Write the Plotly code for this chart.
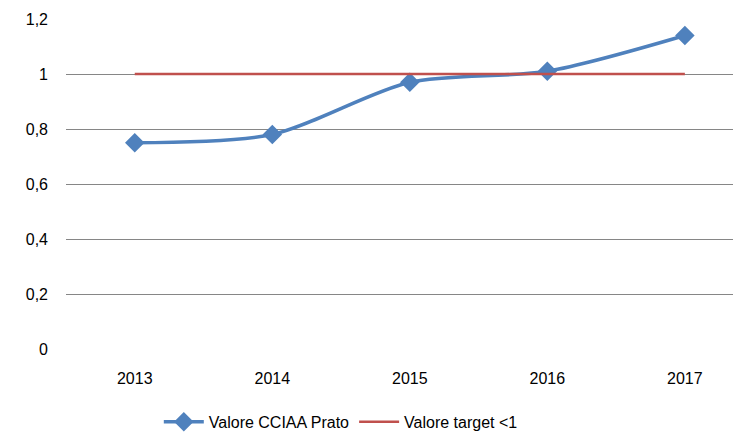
import plotly.graph_objects as go

years = ["2013", "2014", "2015", "2016", "2017"]
valore_cciaa = [0.75, 0.78, 0.97, 1.01, 1.14]
valore_target = [1, 1, 1, 1, 1]
y_ticks = [0, 0.2, 0.4, 0.6, 0.8, 1, 1.2]

FONT = "Liberation Sans, Arial, sans-serif"

fig = go.Figure()
fig.add_trace(go.Scatter(
    x=years, y=valore_cciaa, name="Valore CCIAA Prato",
    mode="lines+markers", line=dict(color="#4F81BD", width=3.5, shape="spline", smoothing=0.8),
    marker=dict(symbol="diamond", size=15, color="#4F81BD"),
))
fig.add_trace(go.Scatter(
    x=years, y=valore_target, name="Valore target <1",
    mode="lines", line=dict(color="#C0504D", width=2.5),
))

fig.update_layout(
    width=733, height=435,
    margin=dict(l=66, r=0, t=19, b=86, autoexpand=False),
    paper_bgcolor="white", plot_bgcolor="white",
    separators=",.",
    font=dict(family=FONT, size=16, color="#000000"),
    showlegend=True,
    legend=dict(orientation="h", x=0.412, xanchor="center", y=-0.221, yanchor="middle",
                font=dict(size=16), itemwidth=40, traceorder="normal"),
    xaxis=dict(type="category", range=[-0.5, 4.35], showgrid=False, showline=False,
               ticks="", ticklabelstandoff=18, zeroline=False),
    yaxis=dict(range=[0, 1.2], tickvals=y_ticks, showgrid=True, gridcolor="#868686",
               gridwidth=1, zeroline=False, showline=False, ticks="", ticklabelstandoff=17),
)

fig.write_html(
    "out.html",
    config={"displayModeBar": False},
    post_script="document.body.style.margin='0';document.body.style.overflow='hidden';",
)
